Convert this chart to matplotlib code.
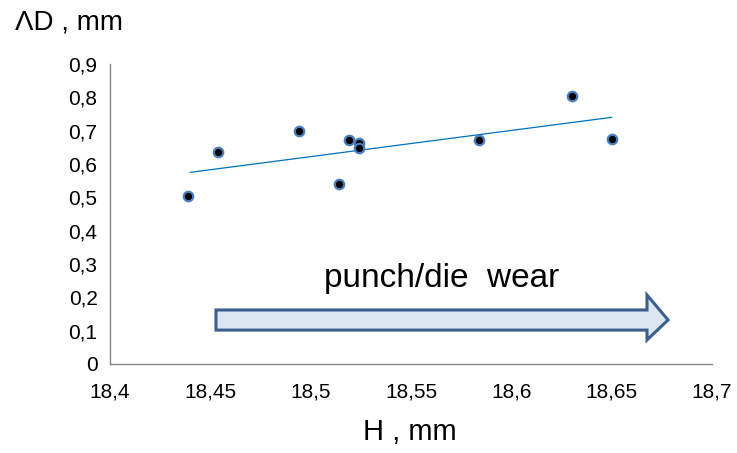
import matplotlib.pyplot as plt
from matplotlib.patches import Polygon

plt.rcParams['font.family'] = ['Liberation Sans', 'DejaVu Sans']

# -- data --
h_mm = [18.439, 18.454, 18.494, 18.514, 18.519, 18.524, 18.524, 18.584, 18.630, 18.650]
delta_d = [0.505, 0.637, 0.699, 0.539, 0.671, 0.664, 0.647, 0.671, 0.804, 0.674]
trend_x = [18.44, 18.65]
trend_y = [0.575, 0.740]

x_ticks = [18.4, 18.45, 18.5, 18.55, 18.6, 18.65, 18.7]
y_ticks = [0, 0.1, 0.2, 0.3, 0.4, 0.5, 0.6, 0.7, 0.8, 0.9]


def comma(v):
	s = f"{v:g}"
	return s.replace(".", ",")


fig = plt.figure(figsize=(7.37, 4.53), dpi=100)
ax = fig.add_axes([0.1493, 0.1965, 0.8168, 0.6622])

ax.plot(trend_x, trend_y, color="#0070C0", linewidth=0.9, zorder=2)
ax.plot(h_mm, delta_d, linestyle="none", marker="o", markersize=6.8,
        markerfacecolor="black", markeredgecolor="#4A7EBB", markeredgewidth=1.6, zorder=3)

ax.set_xlim(18.4, 18.7)
ax.set_ylim(0, 0.9)
ax.set_xticks(x_ticks)
ax.set_xticklabels([comma(v) for v in x_ticks])
ax.set_yticks(y_ticks)
ax.set_yticklabels([comma(v) for v in y_ticks])
ax.tick_params(axis="both", length=0, labelsize=15, colors="black")
ax.tick_params(axis="x", pad=13)
ax.tick_params(axis="y", pad=9)

for side in ("top", "right"):
	ax.spines[side].set_visible(False)
for side in ("left", "bottom"):
	ax.spines[side].set_color("#868686")
	ax.spines[side].set_linewidth(1.0)

# -- axis titles --
fig.text(0.02, 0.951, "ΛD , mm", fontsize=20, ha="left", va="center")
fig.text(0.556, 0.046, "H , mm", fontsize=21, ha="center", va="center")

# -- wear arrow --
arrow_pts = [(0.176, 0.113), (0.892, 0.113), (0.892, 0.08), (0.927, 0.1467),
             (0.892, 0.23), (0.892, 0.18), (0.176, 0.18)]
arrow = Polygon(arrow_pts, closed=True, transform=ax.transAxes,
                facecolor="#DCE6F2", edgecolor="#3B5F8E", linewidth=2.2, clip_on=False)
ax.add_patch(arrow)
ax.text(0.551, 0.257, "punch/die  wear", transform=ax.transAxes,
        fontsize=24, ha="center", va="baseline")

fig.savefig("out.png", dpi=100)
